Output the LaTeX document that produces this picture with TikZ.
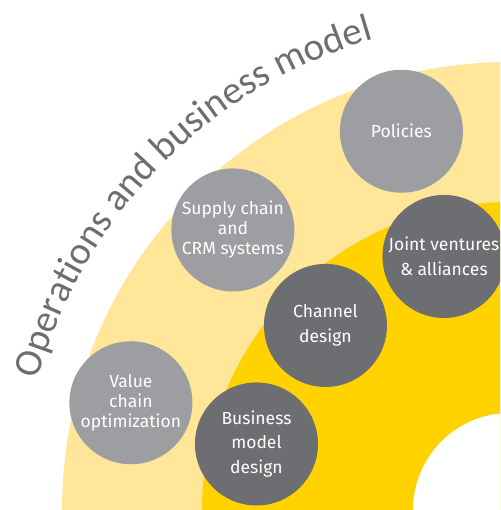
\documentclass[tikz,border=0pt]{standalone}
\usepackage{fontspec}
\setmainfont{Fira Sans}
\newfontfamily\titlefont{Carlito}
\usetikzlibrary{calc,decorations.text}
\definecolor{paleyellow}{HTML}{FFE699}
\definecolor{eyyellow}{HTML}{FFD200}
\definecolor{bubblelight}{HTML}{9D9EA1}
\definecolor{bubbledark}{HTML}{6D6E71}
\definecolor{titlegray}{HTML}{6D6E71}
\begin{document}
\begin{tikzpicture}[x=1pt,y=1pt,
  bubble/.style={circle, minimum size=123pt, inner sep=0pt, text=white, align=center},
  outerbubble/.style={bubble, fill=bubblelight, font=\fontsize{17.5}{20}\selectfont},
  innerbubble/.style={bubble, fill=bubbledark, font=\fontsize{17.5}{24.5}\selectfont}]
\useasboundingbox (0,0) rectangle (500,510);
\clip (0,0) rectangle (500,510);
\coordinate (C) at (510,0);
\fill[paleyellow] (C) circle (448);
\fill[eyyellow] (C) circle (308);
\fill[white] (C) circle (97);
% outer ring
\node[outerbubble] (policies) at ($(C)+(106:394)$) {Policies};
\node[outerbubble] (supply) at ($(C)+(134.7:394)$) {Supply chain\\and\\CRM systems};
\node[outerbubble] (value) at ($(C)+(164.2:394)$) {Value\\chain\\optimization};
% inner ring
\node[innerbubble] (joint) at ($(C)+(104.6:262)$) {Joint ventures\\\& alliances};
\node[innerbubble] (channel) at ($(C)+(135:261)$) {Channel\\design};
\node[innerbubble] (business) at ($(C)+(165.4:262)$) {Business\\model\\design};
% title along arc
\path[decorate, decoration={text along path,
   text={|\titlefont\fontsize{39}{39}\selectfont|Operations and business model},
   text align={fit to path}, text color=titlegray}]
   ($(C)+(164.5:490)$) arc[start angle=164.5, end angle=106.2, radius=490];
\end{tikzpicture}
\end{document}
